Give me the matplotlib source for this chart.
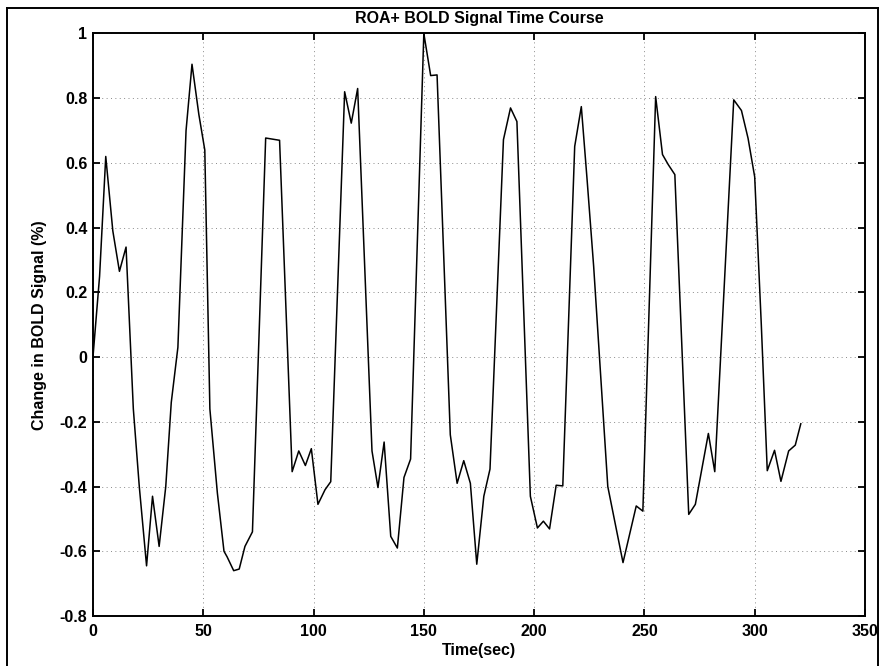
import matplotlib
matplotlib.use("Agg")
import matplotlib.pyplot as plt
from matplotlib.lines import Line2D

# time (sec) and % change of BOLD signal
time_s = [0, 3, 5.8, 9, 12, 15, 18.3, 21, 24.3, 27, 30, 33, 35.5, 38.5,
          42.2, 44.9, 48, 50.7, 53, 56.4, 59.4, 60.8, 63.8, 66.3, 68.9, 72.3,
          78.3, 84.6, 90.3, 93.3, 96.3, 99, 102, 105.2, 107.8,
          114.1, 117.1, 120, 126.5, 129.2, 132, 135, 138, 141, 144,
          150, 153.1, 156, 162, 165.1, 168.1, 171.1, 174, 177.2, 180,
          186.1, 189.3, 192.2, 198.3, 201.5, 204.2, 207, 210, 213,
          218.4, 221.4, 224, 227, 233.4, 240.3, 246.3, 249.3,
          255.1, 258.2, 260.8, 263.8, 270.1, 273.1, 279, 281.9,
          290.5, 294, 297, 300, 303, 305.7, 309, 311.9, 315.4, 318.4, 320.9]
bold_change = [0.0, 0.25, 0.62, 0.39, 0.265, 0.34, -0.16, -0.40, -0.645, -0.43, -0.585, -0.40, -0.14, 0.03,
               0.70, 0.905, 0.75, 0.64, -0.16, -0.42, -0.60, -0.617, -0.66, -0.655, -0.585, -0.54,
               0.677, 0.67, -0.354, -0.29, -0.335, -0.283, -0.455, -0.41, -0.385,
               0.82, 0.723, 0.83, -0.29, -0.403, -0.2625, -0.554, -0.59, -0.372, -0.315,
               1.0, 0.87, 0.872, -0.24, -0.39, -0.32, -0.39, -0.64, -0.43, -0.346,
               0.672, 0.77, 0.728, -0.43, -0.528, -0.507, -0.531, -0.396, -0.398,
               0.651, 0.774, 0.55, 0.28, -0.40, -0.635, -0.46, -0.476,
               0.805, 0.626, 0.595, 0.564, -0.486, -0.455, -0.236, -0.354,
               0.795, 0.762, 0.676, 0.557, 0.10, -0.351, -0.288, -0.384, -0.29, -0.272, -0.206]

xticks = [0, 50, 100, 150, 200, 250, 300, 350]
yticks = [-0.8, -0.6, -0.4, -0.2, 0, 0.2, 0.4, 0.6, 0.8, 1]
ytick_labels = ["-0.8", "-0.6", "-0.4", "-0.2", "0", "0.2", "0.4", "0.6", "0.8", "1"]

plt.rcParams['font.family'] = ['Liberation Sans', 'DejaVu Sans']
plt.rcParams['font.weight'] = 'bold'

fig = plt.figure(figsize=(8.82, 6.66), dpi=100)
ax = fig.add_axes([0.1054, 0.0751, 0.8753, 0.8746])

ax.plot(time_s, bold_change, color='black', linewidth=1.1)

ax.set_xlim(0, 350)
ax.set_ylim(-0.8, 1)
ax.set_xticks(xticks)
ax.set_yticks(yticks)
ax.set_yticklabels(ytick_labels)
ax.tick_params(direction='in', length=5, width=1.3, top=True, right=True,
               labelsize=11.5)
ax.tick_params(axis='x', pad=6)
ax.tick_params(axis='y', pad=4)
for lab in ax.get_xticklabels() + ax.get_yticklabels():
    lab.set_fontweight('bold')
for sp in ax.spines.values():
    sp.set_linewidth(1.4)

ax.grid(True, color='#8a8a8a', linestyle=(0, (1, 3.5)), linewidth=0.7)

ax.set_xlabel('Time(sec)', fontsize=11.5, fontweight='bold', labelpad=3)
ax.set_ylabel('Change in BOLD Signal (%)', fontsize=11.5, fontweight='bold', labelpad=9)

fig.text(0.543, 0.9715, 'ROA+ BOLD Signal Time Course', ha='center', va='center',
         fontsize=11.5, fontweight='bold')

# outer frame of the scanned figure
fig.add_artist(Line2D([0.008, 0.008], [0.0, 0.988], color='black', linewidth=1.4, transform=fig.transFigure))
fig.add_artist(Line2D([0.008, 0.995], [0.988, 0.988], color='black', linewidth=1.4, transform=fig.transFigure))
fig.add_artist(Line2D([0.995, 0.995], [0.0, 0.988], color='black', linewidth=1.4, transform=fig.transFigure))

fig.savefig('out.png', dpi=100, facecolor='white')
